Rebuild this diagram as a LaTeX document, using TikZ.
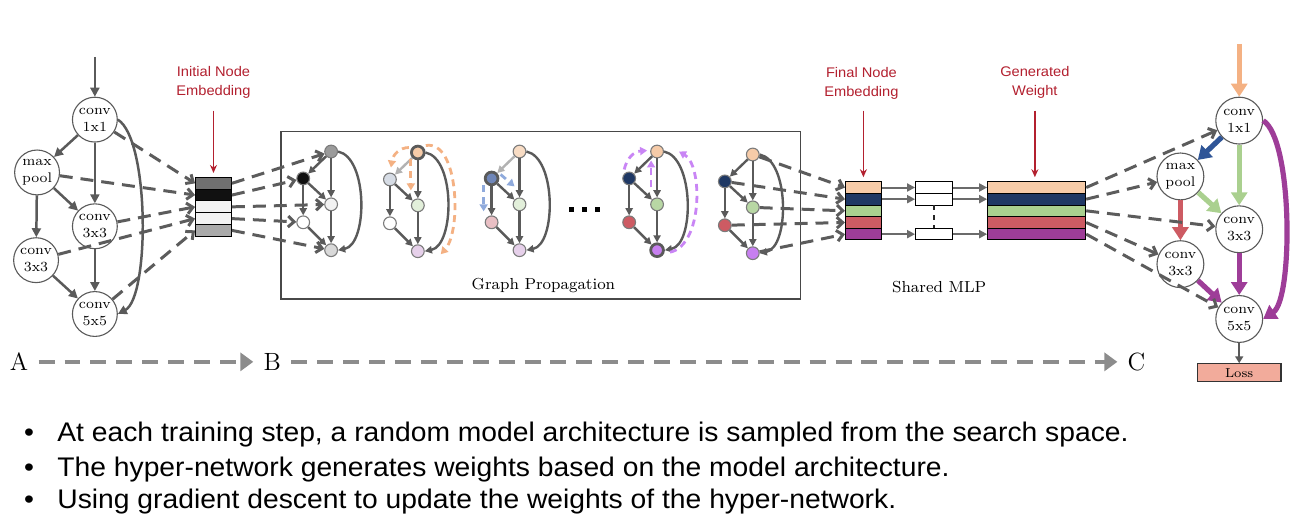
\documentclass[tikz,border=0pt]{standalone}
\usepackage{fontspec}
\newfontfamily\helv[FakeStretch=1.05]{Liberation Sans}
\usetikzlibrary{arrows.meta}
\definecolor{eg}{HTML}{5A5A5A}
\definecolor{dg}{HTML}{5C5C5C}
\definecolor{labred}{HTML}{B3202F}
\definecolor{peach}{HTML}{F6CBA8}
\definecolor{navy}{HTML}{1F3864}
\definecolor{lgreen}{HTML}{AAD08F}
\definecolor{rred}{HTML}{CD5B63}
\definecolor{purp}{HTML}{9E3D98}
\definecolor{gviolet}{HTML}{C77FF0}
\definecolor{orangeA}{HTML}{F4B183}
\definecolor{blueA}{HTML}{2F5597}
\definecolor{lossc}{HTML}{F2AB9B}
\definecolor{pdash}{HTML}{C985F5}
\definecolor{bdash}{HTML}{8FAADC}
\definecolor{odash}{HTML}{F4B183}
\definecolor{gA}{HTML}{9B9B9B}
\definecolor{gB}{HTML}{111111}
\definecolor{gC}{HTML}{F2F2F2}
\definecolor{gD}{HTML}{D9D9D9}
\definecolor{eA}{HTML}{707070}
\definecolor{eE}{HTML}{AAAAAA}
\definecolor{bgA}{HTML}{D6DCE5}
\definecolor{mgA}{HTML}{E2EFDA}
\definecolor{pkA}{HTML}{E6D0EA}
\definecolor{peachL}{HTML}{F8DCC4}
\definecolor{blueM}{HTML}{6F86B8}
\definecolor{pinkA}{HTML}{E9BFC4}
\definecolor{greenM}{HTML}{B8D7A4}
\definecolor{abcg}{HTML}{8C8C8C}
\newcommand\mgraph[9]{%
  \begin{scope}[shift={(#2,#3)}]
  \node[gn,#4] (#1t) at (0,0) {};
  \node[gn,#5] (#1l) at (-28,27) {};
  \node[gn,#6] (#1m) at (0,53) {};
  \node[gn,#7] (#1b) at (-28,71) {};
  \node[gn,#8] (#1o) at (0,99) {};
  \end{scope}
  \draw[ge,#9] (#1t) -- (#1l);
  \draw[ge] (#1t) -- (#1m);
  \draw[ge] (#1l) -- (#1m);
  \draw[ge] (#1l) -- (#1b);
  \draw[ge] (#1b) -- (#1o);
  \draw[ge] (#1m) -- (#1o);
  \draw[ge] (#1t.east) .. controls +(30,6) and +(30,-6) .. (#1o.east);
}
\begin{document}
\begin{tikzpicture}[x=0.5pt,y=-0.5pt,
  opn/.style={circle,draw=eg,line width=0.55pt,fill=white,minimum size=22.5pt,inner sep=0pt,align=center,font=\fontsize{7pt}{8.3pt}\selectfont},
  opnr/.style={opn,minimum size=23.5pt},
  lge/.style={draw=eg,line width=1.25pt,-{Triangle[length=4.5pt,width=4.5pt]}},
  rge/.style={line width=2.6pt,-{Triangle[length=6.5pt,width=8pt]}},
  gn/.style={circle,draw=eg!80,line width=0.55pt,minimum size=6.4pt,inner sep=0pt},
  thickb/.style={draw=eg,line width=1.4pt},
  ge/.style={draw=eg,line width=1.2pt,-{Triangle[length=3.6pt,width=3.6pt]}},
  lightedge/.style={draw=gray!60},
  dar/.style={draw=dg,line width=1.5pt,dash pattern=on 6.5pt off 4pt,-{Straight Barb[length=3pt,width=5.5pt]}},
  row/.style={rectangle,draw=black,line width=0.5pt,minimum width=18pt,minimum height=5.9pt,inner sep=0pt},
  wrow/.style={row,minimum width=49.2pt,minimum height=5.85pt},
  frow/.style={row,minimum height=5.85pt},
  mrow/.style={row,minimum width=18.7pt,minimum height=5.85pt,fill=white},
  redlab/.style={align=center,text=labred,font=\helv\fontsize{7pt}{9.5pt}\selectfont},
  redar/.style={draw=labred,line width=0.8pt,-{Stealth[length=4pt,width=3.5pt]},shorten >=2pt},
  mlpar/.style={draw=eg!90,line width=1pt,-{Triangle[length=4pt,width=4pt]}},
  abc/.style={draw=abcg,line width=2pt,dash pattern=on 8pt off 5pt,-{Triangle[length=6.5pt,width=9pt]}},
  abcl/.style={font=\fontsize{12.5pt}{14pt}\selectfont,inner xsep=5pt,inner ysep=0pt},
  serlab/.style={font=\fontsize{8pt}{9.5pt}\selectfont},
  odsh/.style={draw=#1,line width=1.4pt,dash pattern=on 3.5pt off 2.5pt,-{Triangle[length=3.5pt,width=4pt]}},
  bul/.style={font=\helv\fontsize{13.5pt}{16pt}\selectfont,inner sep=0pt}
]
\path[fill=white] (0,0) rectangle (1306,531);

% ---------- left graph ----------
\node[opn] (L11) at (91,120) {conv\\1x1};
\node[opn] (Lmp) at (33,173) {max\\pool};
\node[opn] (L33r) at (91,227) {conv\\3x3};
\node[opn] (L33l) at (32,261) {conv\\3x3};
\node[opn] (L55) at (91,315) {conv\\5x5};
\coordinate (Lin) at (91,57);
\draw[lge] (Lin) -- (L11);
\draw[lge] (L11) -- (Lmp);
\draw[lge] (L11) -- (L33r);
\draw[lge] (Lmp) -- (L33r);
\draw[lge] (Lmp) -- (L33l);
\draw[lge] (L33l) -- (L55);
\draw[lge] (L33r) -- (L55);
\draw[lge] (L11.east) .. controls (146,140) and (146,298) .. (L55.east);

% ---------- initial embedding ----------
\node[row,fill=eA] (e1) at (210,183.9) {};
\node[row,fill=gB] (e2) at (210,195.7) {};
\node[row,fill=gC] (e3) at (210,207.5) {};
\node[row,fill=gC] (e4) at (210,219.3) {};
\node[row,fill=eE] (e5) at (210,231.1) {};
\node[redlab] (lab1) at (210,83) {Initial Node\\Embedding};
\coordinate (ra1) at (210,111);
\draw[redar] (ra1) -- (e1.north);

\draw[dar] (L11) -- (e1.west);
\draw[dar] (Lmp) -- (e2.west);
\draw[dar] (L33r) -- (e3.west);
\draw[dar] (L33l) -- (e4.west);
\draw[dar] (L55) -- (e5.west);

% ---------- graph propagation ----------
\draw[draw=eg!80!black,line width=0.8pt] (278,132) rectangle (799,300);
\node[serlab] (gp) at (541,286) {Graph Propagation};

\mgraph{ga}{328}{152}{fill=gA}{fill=gB}{fill=gC}{fill=white}{fill=gD}{}
\mgraph{gb}{415}{153}{fill=peach,thickb}{fill=bgA}{fill=mgA}{fill=white}{fill=pkA}{lightedge}
\mgraph{gc}{517}{152}{fill=peachL}{fill=blueM,thickb}{fill=mgA}{fill=pinkA}{fill=pkA}{lightedge}
\mgraph{gd}{655}{152}{fill=peach}{fill=navy}{fill=greenM}{fill=rred}{fill=gviolet,thickb}{}
\mgraph{ge}{751}{155}{fill=peach}{fill=navy}{fill=greenM}{fill=rred}{fill=gviolet}{}

\draw[dar] (e1.east) -- (gat);
\draw[dar] (e2.east) -- (gal);
\draw[dar] (e3.east) -- (gam);
\draw[dar] (e4.east) -- (gab);
\draw[dar] (e5.east) -- (gao);

% orange propagation
\draw[odsh=odash] (406,148) .. controls (397,148) and (390,155) .. (388,168);
\draw[odsh=odash] (408,160) -- (408,191);
\draw[odsh=odash] (423,146) .. controls (456,140) and (459,232) .. (438,255);
% blue propagation
\draw[odsh=bdash] (498,175) -- (512,187);
\draw[odsh=bdash] (481,186) -- (481,212);
% purple propagation
\draw[odsh=pdash] (622,170) .. controls (625,158) and (632,152) .. (645,151);
\draw[odsh=pdash] (649,188) -- (649,161);
\draw[odsh=pdash] (668,253) .. controls (701,246) and (701,166) .. (677,152);

% dots
\fill (567,207.5) rectangle (572,212.5);
\fill (580,207.5) rectangle (585,212.5);
\fill (593,207.5) rectangle (598,212.5);

% ---------- final node embedding ----------
\node[frow,fill=peach] (f1) at (862,188.1) {};
\node[frow,fill=navy] (f2) at (862,199.8) {};
\node[frow,fill=lgreen] (f3) at (862,211.5) {};
\node[frow,fill=rred] (f4) at (862,223.2) {};
\node[frow,fill=purp] (f5) at (862,234.9) {};
\node[redlab] (lab2) at (860,84) {Final Node\\Embedding};
\coordinate (ra2) at (862,111);
\draw[redar] (ra2) -- (f1.north);

\draw[dar] (get) -- (f1.west);
\draw[dar] (gel) -- (f2.west);
\draw[dar] (gem) -- (f3.west);
\draw[dar] (geb) -- (f4.west);
\draw[dar] (geo) -- (f5.west);

% ---------- shared MLP ----------
\node[mrow] (m1) at (933,188.1) {};
\node[mrow] (m2) at (933,199.8) {};
\node[mrow] (m3) at (933,234.9) {};
\draw[draw=black!85,line width=1pt,dash pattern=on 2.5pt off 2.5pt] (m2.south) -- (m3.north);
\node[serlab] (mlp) at (938,288) {Shared MLP};

\node[wrow,fill=peach] (w1) at (1035.8,188.1) {};
\node[wrow,fill=navy] (w2) at (1035.8,199.8) {};
\node[wrow,fill=lgreen] (w3) at (1035.8,211.5) {};
\node[wrow,fill=rred] (w4) at (1035.8,223.2) {};
\node[wrow,fill=purp] (w5) at (1035.8,234.9) {};
\node[redlab] (lab3) at (1034,83) {Generated\\Weight};
\coordinate (ra3) at (1034,111);
\draw[redar] (ra3) -- (w1.north -| ra3);

\draw[mlpar] (f1.east) -- (m1.west);
\draw[mlpar] (f2.east) -- (m2.west);
\draw[mlpar] (f5.east) -- (m3.west);
\draw[mlpar] (m1.east) -- (w1.west);
\draw[mlpar] (m2.east) -- (w2.west);
\draw[mlpar] (m3.east) -- (w5.west);

% ---------- right graph ----------
\node[opnr] (R11) at (1239,121) {conv\\1x1};
\node[opnr] (Rmp) at (1180,177) {max\\pool};
\node[opnr] (R33r) at (1239,230) {conv\\3x3};
\node[opnr] (R33l) at (1180,265) {conv\\3x3};
\node[opnr] (R55) at (1239,320) {conv\\5x5};
\node[rectangle,draw=black!80,line width=0.6pt,fill=lossc,minimum width=42pt,minimum height=9pt,inner sep=0pt,font=\fontsize{6.5pt}{8pt}\selectfont] (loss) at (1239,374) {Loss};
\coordinate (Rin) at (1239,44);
\draw[rge,draw=orangeA] (Rin) -- (R11);
\draw[rge,draw=blueA] (R11) -- (Rmp);
\draw[rge,draw=lgreen] (R11) -- (R33r);
\draw[rge,draw=lgreen] (Rmp) -- (R33r);
\draw[rge,draw=rred] (Rmp) -- (R33l);
\draw[rge,draw=purp] (R33l) -- (R55);
\draw[rge,draw=purp] (R33r) -- (R55);
\draw[rge,draw=purp] (R11.east) .. controls (1293,140) and (1293,300) .. (R55.east);
\draw[draw=eg,line width=1pt,-{Triangle[length=3.5pt,width=4pt]}] (R55) -- (loss);

\draw[dar] (w1.east) -- (R11);
\draw[dar] (w2.east) -- (Rmp);
\draw[dar] (w3.east) -- (R33r);
\draw[dar] (w4.east) -- (R33l);
\draw[dar] (w5.east) -- (R55);

% ---------- A B C ----------
\node[abcl] (A) at (15,363) {A};
\node[abcl] (B) at (269,363) {B};
\node[abcl] (C) at (1136,363) {C};
\draw[abc] (A.east) -- (B.west);
\draw[abc] (B.east) -- (C.west);

% ---------- bullets ----------
\node[bul,anchor=base] (b1) at (25,443) {•};
\node[bul,anchor=base west] (t1) at (53,443) {At each training step, a random model architecture is sampled from the search space.};
\node[bul,anchor=base] (b2) at (25,478) {•};
\node[bul,anchor=base west] (t2) at (53,478) {The hyper-network generates weights based on the model architecture.};
\node[bul,anchor=base] (b3) at (25,510) {•};
\node[bul,anchor=base west] (t3) at (53,510) {Using gradient descent to update the weights of the hyper-network.};
\end{tikzpicture}
\end{document}
